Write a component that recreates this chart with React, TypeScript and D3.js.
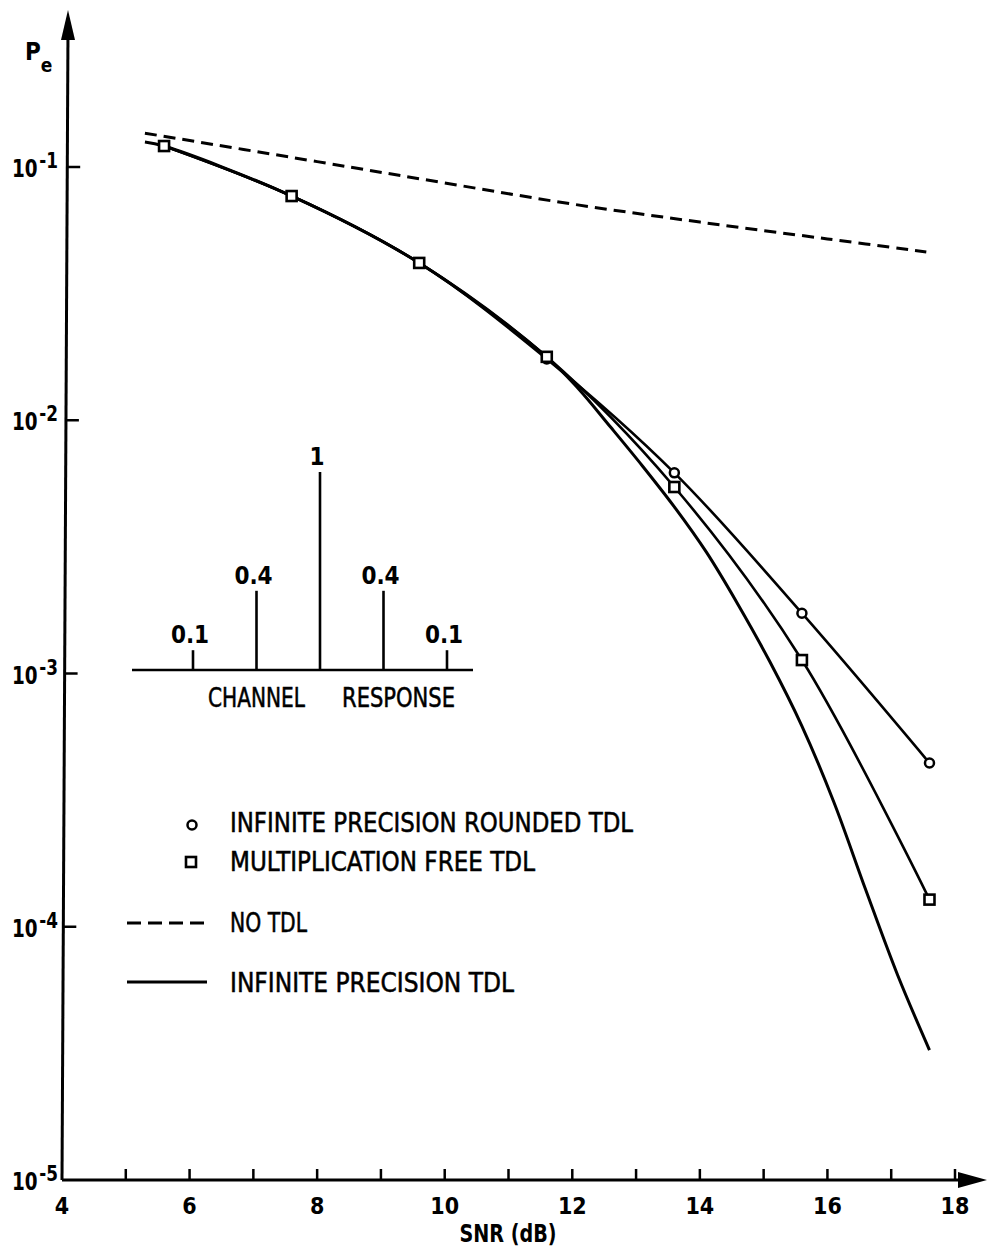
import React from "react";
import * as d3 from "d3";

// error probability vs SNR
const SNR_MARKS = [5.6, 7.6, 9.6, 11.6, 13.6, 15.6, 17.6];
const ROUNDED_PE = [0.121, 0.0768, 0.0418, 0.01746, 0.0062, 0.00173, 0.000443];
const MULT_FREE_PE = [0.121, 0.0768, 0.0418, 0.0178, 0.00545, 0.00113, 0.000128];

const INF_SNR = [5.3, 5.6, 7.6, 9.6, 11.6, 12.1, 12.6, 13.1, 13.6, 14.1, 14.6, 15.1, 15.6, 16.1, 16.6, 17.1, 17.6];
const INF_PE = [
  0.1256, 0.121, 0.0768, 0.0418, 0.01777, 0.01329, 0.0094, 0.0066, 0.00455, 0.00302, 0.00187, 0.00111,
  0.00062, 0.000311, 0.00014, 0.0000645, 0.0000326,
];

const NO_TDL_SNR = [5.3, 8, 10, 12, 14, 16, 17.55];
const NO_TDL_PE = [0.136, 0.105, 0.0865, 0.0714, 0.0606, 0.052, 0.0462];

const X_TICKS = [5, 6, 7, 8, 9, 10, 11, 12, 13, 14, 15, 16, 17, 18];
const X_LABELS = [4, 6, 8, 10, 12, 14, 16, 18];
const Y_EXPONENTS = [-1, -2, -3, -4, -5];

// inset: channel response taps
const TAP_INDEX = [0, 1, 2, 3, 4];
const TAP_VALUES = [0.1, 0.4, 1, 0.4, 0.1];
const TAP_LABELS = ["0.1", "0.4", "1", "0.4", "0.1"];

const LEGEND = [
  { label: "INFINITE PRECISION ROUNDED TDL", kind: "circle", width: 403 },
  { label: "MULTIPLICATION FREE TDL", kind: "square", width: 305 },
  { label: "NO TDL", kind: "dash", width: 77 },
  { label: "INFINITE PRECISION TDL", kind: "solid", width: 284 },
];

const FONT = "'DejaVu Sans Condensed', 'Liberation Sans Narrow', 'DejaVu Sans', sans-serif";

export default function App() {
  const width = 987;
  const height = 1249;

  const x = d3.scaleLinear().domain([4, 18]).range([62, 955]);
  const y = d3.scaleLog().domain([1e-5, 1e-1]).range([1180, 167]);

  // the scanned y axis leans a little
  const axisTopX = 68;
  const axisBottomX = 62;
  const axisXAt = (py: number) => axisBottomX + ((1180 - py) / (1180 - 10)) * (axisTopX - axisBottomX);

  const line = d3
    .line<[number, number]>()
    .x((d) => x(d[0]))
    .y((d) => y(d[1]))
    .curve(d3.curveCatmullRom.alpha(0.5));

  const rounded = SNR_MARKS.map((s, i) => [s, ROUNDED_PE[i]] as [number, number]);
  const multFree = SNR_MARKS.map((s, i) => [s, MULT_FREE_PE[i]] as [number, number]);
  const infinite = INF_SNR.map((s, i) => [s, INF_PE[i]] as [number, number]);
  const noTdl = NO_TDL_SNR.map((s, i) => [s, NO_TDL_PE[i]] as [number, number]);

  const tapX = d3.scaleLinear().domain([0, 4]).range([193, 447]);
  const tapY = d3.scaleLinear().domain([0, 1]).range([670, 472]);

  const legendRows = [822, 861, 922, 982];

  return (
    <svg
      width={width}
      height={height}
      style={{ position: "absolute", left: 0, top: 0, background: "#fff" }}
      fontFamily={FONT}
    >
      <rect width={width} height={height} fill="#fff" />

      {/* axes */}
      <line x1={axisBottomX} y1={1180} x2={axisTopX} y2={30} stroke="#000" strokeWidth={3} />
      <polygon points={`${axisTopX},10 ${axisTopX - 7},40 ${axisTopX + 7},40`} fill="#000" />
      <line x1={axisBottomX} y1={1180} x2={965} y2={1180} stroke="#000" strokeWidth={3} />
      <polygon points="987,1180 958,1172 958,1188" fill="#000" />

      {X_TICKS.map((t) => (
        <line key={t} x1={x(t)} x2={x(t)} y1={1180} y2={1169} stroke="#000" strokeWidth={2.5} />
      ))}
      {X_LABELS.map((t) => (
        <text key={t} x={x(t)} y={1214} textAnchor="middle" fontSize={23} fontWeight="bold">
          {t}
        </text>
      ))}
      <text x={508} y={1242} textAnchor="middle" fontSize={24} fontWeight="bold" textLength={97} lengthAdjust="spacingAndGlyphs">
        SNR (dB)
      </text>

      {Y_EXPONENTS.map((e) => {
        const py = y(Math.pow(10, e));
        const ax = axisXAt(py);
        return (
          <g key={e}>
            {e !== -5 && <line x1={ax} x2={ax + 13} y1={py} y2={py} stroke="#000" strokeWidth={2.5} />}
            <text x={12} y={py + 10} fontSize={24} fontWeight="bold" textLength={46} lengthAdjust="spacingAndGlyphs">
              <tspan>10</tspan>
              <tspan dx={2} dy={-9} fontSize={22}>{`-${-e}`}</tspan>
            </text>
          </g>
        );
      })}
      <text x={25} y={60} fontSize={24} fontWeight="bold">
        <tspan>P</tspan>
        <tspan dy={12} fontSize={19}>e</tspan>
      </text>

      {/* curves */}
      <path d={line(noTdl) ?? ""} fill="none" stroke="#000" strokeWidth={3} strokeDasharray="12,7" />
      <path d={line(infinite) ?? ""} fill="none" stroke="#000" strokeWidth={3} />
      <path d={line(multFree) ?? ""} fill="none" stroke="#000" strokeWidth={2.6} />
      <path d={line(rounded) ?? ""} fill="none" stroke="#000" strokeWidth={2.6} />

      {rounded.map((d, i) => (
        <circle key={"c" + i} cx={x(d[0])} cy={y(d[1])} r={4.5} fill="#fff" stroke="#000" strokeWidth={2.5} />
      ))}
      {multFree.map((d, i) => (
        <rect key={"s" + i} x={x(d[0]) - 5} y={y(d[1]) - 5} width={10} height={10} fill="#fff" stroke="#000" strokeWidth={2.6} />
      ))}

      {/* channel response inset */}
      <line x1={132} x2={473} y1={670} y2={670} stroke="#000" strokeWidth={2.5} />
      {TAP_INDEX.map((k, i) => (
        <g key={k}>
          <line x1={tapX(k)} x2={tapX(k)} y1={tapY(0)} y2={tapY(TAP_VALUES[i])} stroke="#000" strokeWidth={2.6} />
          <text x={tapX(k) - 3} y={tapY(TAP_VALUES[i]) - 7} textAnchor="middle" fontSize={24} fontWeight="bold">
            {TAP_LABELS[i]}
          </text>
        </g>
      ))}
      <g stroke="#000" strokeWidth={0.5}>
        <text x={208} y={707} fontSize={26} textLength={97} lengthAdjust="spacingAndGlyphs">CHANNEL</text>
        <text x={342} y={707} fontSize={26} textLength={113} lengthAdjust="spacingAndGlyphs">RESPONSE</text>
      </g>

      {/* legend */}
      {LEGEND.map((item, i) => {
        const ly = legendRows[i];
        return (
          <g key={item.label}>
            {item.kind === "circle" && <circle cx={192} cy={ly + 3} r={4.5} fill="#fff" stroke="#000" strokeWidth={2.5} />}
            {item.kind === "square" && (
              <rect x={186} y={ly - 4} width={10} height={10} fill="#fff" stroke="#000" strokeWidth={2.6} />
            )}
            {item.kind === "dash" && (
              <line x1={127} x2={208} y1={ly + 1} y2={ly + 1} stroke="#000" strokeWidth={3} strokeDasharray="14,7" />
            )}
            {item.kind === "solid" && <line x1={127} x2={207} y1={ly} y2={ly} stroke="#000" strokeWidth={3} />}
            <text
              x={230}
              y={ly + 10}
              fontSize={26}
              stroke="#000"
              strokeWidth={0.5}
              textLength={item.width}
              lengthAdjust="spacingAndGlyphs"
            >
              {item.label}
            </text>
          </g>
        );
      })}
    </svg>
  );
}
